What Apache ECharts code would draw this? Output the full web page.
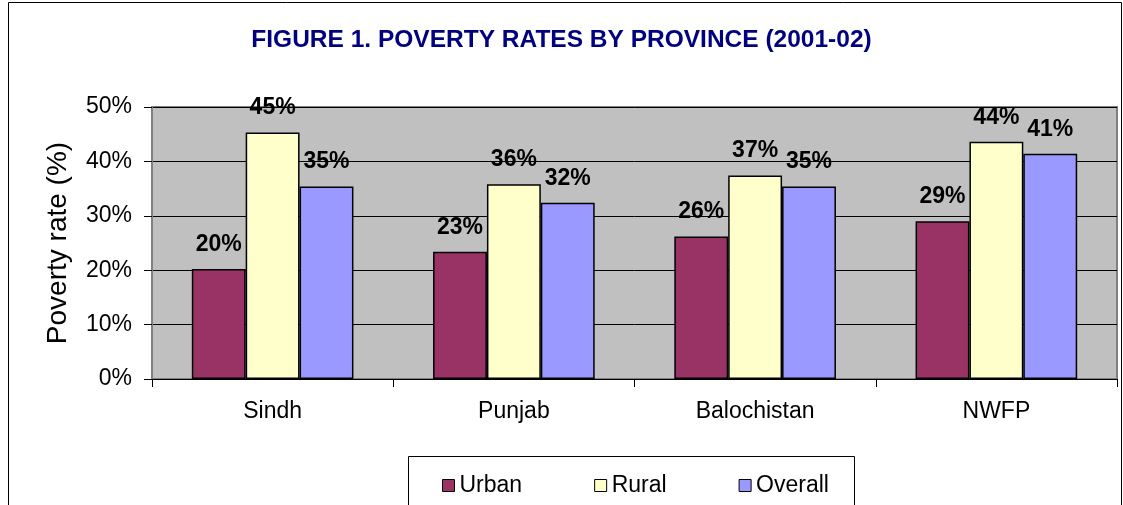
<!DOCTYPE html>
<html>
<head>
<meta charset="utf-8">
<script src="https://cdn.jsdelivr.net/npm/echarts@6/dist/echarts.min.js"></script>
<style>
  html, body { margin: 0; padding: 0; background: #fff; }
  #chart { width: 1123px; height: 505px; }
</style>
</head>
<body>
<div id="chart"></div>
<script>
// data
const provinces = ['Sindh', 'Punjab', 'Balochistan', 'NWFP'];
const urban = [20.2, 23.4, 26.2, 29.0];
const rural = [45.3, 35.8, 37.4, 43.6];
const overall = [35.4, 32.4, 35.4, 41.4];
const seriesNames = ['Urban', 'Rural', 'Overall'];
const seriesColors = ['#993366', '#ffffcc', '#9999ff'];

const font = 'Arial, "Liberation Sans", sans-serif';

const chart = echarts.init(document.getElementById('chart'));

function barSeries(name, data, color) {
    return {
        name: name,
        type: 'bar',
        data: data,
        barGap: '0%',
        barCategoryGap: '33%',
        itemStyle: {
            color: color,
            borderColor: '#000',
            borderWidth: 1.5
        },
        label: {
            show: true,
            position: 'top',
            distance: 13,
            color: '#000',
            fontFamily: font,
            fontWeight: 'bold',
            fontSize: 23,
            formatter: p => Math.round(p.value) + '%'
        }
    };
}

const option = {
    animation: false,
    backgroundColor: '#fff',
    title: {
        text: 'FIGURE 1. POVERTY RATES BY PROVINCE (2001-02)',
        left: 'center',
        top: 23,
        textStyle: {
            color: '#000080',
            fontFamily: font,
            fontWeight: 'bold',
            fontSize: 24.5
        }
    },
    graphic: [
        {
            type: 'rect',
            z: -1,
            shape: { x: 8.5, y: 2.5, width: 1113, height: 530 },
            style: { fill: 'none', stroke: '#000', lineWidth: 1 }
        },
        {
            type: 'rect',
            z: 1,
            shape: { x: 408.5, y: 456.5, width: 446, height: 60 },
            style: { fill: '#fff', stroke: '#000', lineWidth: 1 }
        }
    ],
    legend: {
        data: seriesNames,
        left: 437,
        top: 469,
        z: 5,
        itemWidth: 12,
        itemHeight: 12,
        itemGap: 72,
        icon: 'rect',
        itemStyle: { borderColor: '#000', borderWidth: 1 },
        textStyle: { fontFamily: font, fontSize: 23, color: '#000' }
    },
    grid: {
        left: 152,
        right: 6,
        top: 107,
        bottom: 126,
        show: true,
        backgroundColor: '#c0c0c0',
        borderColor: '#808080',
        borderWidth: 2
    },
    xAxis: {
        type: 'category',
        data: provinces,
        axisLine: { lineStyle: { color: '#000', width: 1 } },
        axisTick: { show: true, length: 8, lineStyle: { color: '#000' } },
        axisLabel: {
            margin: 21,
            color: '#000',
            fontFamily: font,
            fontSize: 23
        }
    },
    yAxis: {
        type: 'value',
        min: 0,
        max: 50,
        interval: 10,
        name: 'Poverty rate (%)',
        nameLocation: 'middle',
        nameGap: 80,
        nameTextStyle: { color: '#000', fontFamily: font, fontSize: 28 },
        axisLine: { show: true, lineStyle: { color: '#808080', width: 2 } },
        axisTick: { show: true, length: 8, lineStyle: { color: '#000' } },
        axisLabel: {
            formatter: '{value}%',
            margin: 20,
            color: '#000',
            fontFamily: font,
            fontSize: 23
        },
        splitLine: { lineStyle: { color: '#000', width: 1 } }
    },
    series: [
        barSeries(seriesNames[0], urban, seriesColors[0]),
        barSeries(seriesNames[1], rural, seriesColors[1]),
        barSeries(seriesNames[2], overall, seriesColors[2])
    ]
};

chart.setOption(option);
</script>
</body>
</html>
